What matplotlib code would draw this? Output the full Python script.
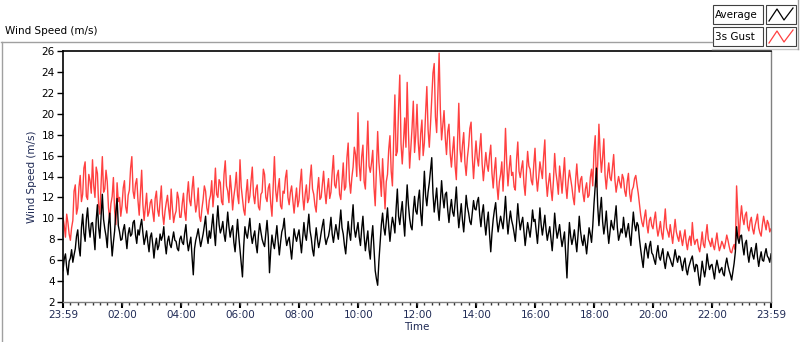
import numpy as np
import matplotlib
matplotlib.use('Agg')
import matplotlib.pyplot as plt
from matplotlib.lines import Line2D
from matplotlib.patches import Rectangle

# 2.5-minute samples from 23:59 to 23:59 next day, one row per hour
gust = [
    10.1, 9.3, 8.2, 10.4, 9.6, 8.5, 7.9, 9.1, 9.8, 12.6, 13.2, 10.4, 11.0, 13.0, 14.1, 11.6, 12.3, 14.8, 15.4, 12.1, 11.8, 14.2, 13.6, 12.4,
    15.6, 13.1, 12.0, 14.9, 14.3, 11.2, 10.4, 13.3, 15.9, 12.5, 12.8, 14.6, 13.5, 11.0, 9.9, 11.4, 12.1, 13.9, 10.7, 9.4, 13.4, 11.6, 12.0, 10.2,
    11.2, 12.9, 13.6, 11.1, 10.5, 12.2, 12.7, 14.8, 15.9, 12.6, 11.9, 13.3, 13.8, 11.7, 10.3, 12.4, 14.6, 11.3, 9.8, 11.1, 12.4, 10.2, 10.6, 11.5,
    11.8, 10.6, 9.7, 11.9, 12.6, 10.8, 10.2, 11.7, 13.1, 10.4, 9.4, 10.7, 11.5, 12.2, 10.9, 9.9, 12.8, 11.0, 9.6, 10.3, 10.7, 12.5, 11.9, 10.1,
    10.1, 11.4, 12.4, 10.6, 9.8, 12.2, 13.5, 11.7, 11.2, 12.8, 14.0, 11.9, 10.6, 11.3, 12.9, 10.2, 9.7, 10.9, 11.8, 13.1, 12.6, 11.0, 10.4, 11.7,
    12.2, 13.6, 11.1, 12.5, 14.8, 12.3, 12.0, 13.7, 13.4, 11.6, 11.3, 14.2, 15.5, 13.1, 12.6, 11.5, 14.1, 12.7, 10.8, 12.1, 13.0, 14.4, 12.2, 11.4,
    15.6, 13.0, 11.9, 10.8, 10.3, 12.4, 13.7, 11.5, 12.1, 13.6, 14.9, 12.2, 11.4, 12.8, 13.2, 11.1, 10.8, 12.3, 12.5, 14.7, 14.2, 12.0, 11.6, 12.9,
    13.3, 11.4, 10.2, 13.1, 15.9, 12.7, 11.6, 12.9, 13.8, 11.2, 10.9, 12.6, 12.4, 13.9, 14.6, 12.0, 11.3, 12.5, 13.1, 11.7, 10.5, 11.8, 12.9, 11.1,
    11.7, 13.4, 14.7, 12.1, 10.8, 12.3, 13.2, 11.5, 11.9, 13.8, 15.1, 12.8, 12.3, 11.2, 10.6, 12.7, 13.9, 11.8, 12.0, 13.3, 14.5, 12.6, 11.4, 12.8,
    13.8, 11.9, 12.5, 14.4, 16.0, 13.2, 12.9, 14.1, 14.6, 12.3, 11.8, 13.5, 15.3, 12.7, 13.0, 15.8, 17.2, 13.6, 12.4, 13.9, 14.9, 16.8, 16.1, 14.0,
    20.1, 15.2, 13.6, 15.9, 17.0, 13.5, 12.8, 16.1, 19.3, 15.0, 14.4, 15.3, 16.5, 13.0, 11.2, 14.6, 18.3, 15.4, 13.9, 12.1, 15.7, 13.3, 10.9, 13.5,
    14.2, 16.6, 17.9, 14.5, 13.1, 17.4, 21.8, 16.0, 16.4, 20.5, 23.7, 17.1, 15.2, 17.3, 19.6, 16.8, 23.0, 18.4, 14.8, 16.7, 18.7, 21.2, 16.3, 18.0,
    20.9, 17.3, 15.6, 18.1, 19.4, 16.0, 17.2, 20.1, 22.6, 18.5, 16.8, 19.0, 21.4, 23.9, 24.8, 19.7, 18.2, 22.1, 25.8, 20.4, 17.5, 18.9, 20.3, 17.7,
    16.1, 18.3, 19.0, 16.2, 14.9, 16.5, 17.8, 15.0, 13.7, 17.2, 21.0, 16.6, 15.4, 17.0, 18.2, 15.3, 14.1, 15.8, 16.9, 18.6, 19.2, 15.9, 13.8, 15.7,
    17.4, 15.8, 15.0, 16.7, 18.1, 15.2, 13.6, 14.9, 16.3, 15.1, 14.5, 16.0, 17.0, 14.3, 12.9, 14.6, 15.8, 13.2, 11.8, 13.5, 14.2, 15.4, 12.6, 14.8,
    18.6, 15.3, 13.1, 14.7, 16.0, 14.1, 14.4, 13.0, 12.7, 15.6, 17.3, 14.5, 13.9, 14.8, 15.5, 13.3, 12.2, 14.4, 16.4, 15.0, 14.7, 13.6, 13.2, 15.1,
    16.7, 14.0, 12.6, 13.9, 15.4, 14.6, 13.8, 15.9, 17.5, 13.7, 12.1, 13.4, 14.3, 12.8, 11.7, 13.6, 16.2, 14.4, 13.5, 12.3, 15.0, 13.8, 12.4, 14.1,
    15.8, 13.2, 11.9, 13.5, 14.6, 13.8, 13.0, 12.0, 11.3, 13.6, 15.2, 13.4, 12.5, 13.7, 14.0, 12.4, 11.6, 12.8, 13.4, 12.0, 12.2, 13.9, 14.7, 13.1,
    16.4, 17.9, 13.0, 15.2, 19.0, 16.3, 14.4, 15.8, 17.6, 14.1, 12.8, 14.2, 15.3, 13.9, 13.6, 14.8, 16.1, 13.7, 12.5, 13.3, 14.0, 13.4, 12.9, 14.2,
    13.8, 12.6, 12.1, 13.5, 14.3, 12.4, 11.6, 12.7, 13.0, 13.8, 14.1, 13.2, 12.4, 11.3, 10.3, 9.6, 9.2, 10.1, 10.8, 9.4, 8.6, 9.8, 10.1, 9.3,
    9.0, 9.9, 10.6, 9.2, 8.3, 8.9, 9.7, 8.6, 8.0, 9.5, 10.9, 9.1, 8.7, 8.2, 9.4, 8.5, 7.6, 8.8, 9.9, 8.7, 8.2, 7.8, 8.8, 8.1,
    7.4, 8.2, 8.9, 7.7, 7.0, 7.9, 8.3, 7.4, 9.6, 8.1, 7.5, 7.9, 8.0, 7.2, 6.8, 7.6, 8.7, 7.5, 7.2, 8.4, 9.4, 8.0, 7.7, 7.3,
    8.1, 7.4, 7.0, 7.8, 8.6, 7.6, 6.9, 7.3, 7.8, 7.5, 7.1, 7.7, 8.4, 7.9, 7.3, 6.8, 6.7, 7.2, 7.5, 7.0, 13.1, 10.6, 8.0, 9.9,
    11.2, 10.0, 9.4, 10.3, 10.6, 9.2, 8.8, 9.7, 10.1, 9.0, 8.5, 9.3, 9.8, 10.4, 9.1, 8.6, 8.3, 9.4, 10.2, 9.5, 8.9, 9.8, 9.5, 8.7, 9.0,
]

average = [
    5.0, 6.1, 6.6, 5.3, 4.6, 5.9, 6.2, 7.0, 5.8, 6.5, 7.1, 8.3, 8.9, 7.2, 6.4, 9.1, 10.4, 8.6, 7.8, 9.9, 11.0, 9.2, 8.2, 9.5,
    9.6, 8.4, 7.0, 9.8, 11.3, 9.1, 8.1, 10.2, 12.3, 9.9, 9.0, 8.3, 7.2, 9.4, 10.5, 8.2, 6.4, 7.7, 8.8, 10.6, 11.9, 9.3, 8.7, 7.9,
    8.0, 8.9, 9.4, 8.2, 7.1, 8.5, 9.1, 8.3, 8.5, 9.6, 9.8, 8.4, 7.6, 8.9, 8.4, 9.3, 9.9, 8.6, 7.5, 8.1, 8.8, 7.7, 6.8, 8.2,
    8.6, 7.5, 6.2, 7.4, 8.1, 7.0, 7.4, 8.5, 7.9, 8.3, 9.2, 7.6, 6.6, 7.8, 8.3, 7.5, 7.2, 8.0, 8.7, 7.9, 7.8, 7.1, 6.9, 8.0,
    8.3, 7.7, 7.5, 8.6, 9.4, 7.8, 6.9, 7.6, 8.2, 6.3, 4.6, 7.1, 7.9, 8.4, 9.0, 8.1, 7.3, 7.9, 8.5, 9.3, 10.2, 8.4, 7.6, 8.8,
    8.1, 9.2, 10.4, 8.7, 7.4, 9.6, 11.2, 9.4, 8.6, 9.0, 9.7, 8.5, 7.8, 9.1, 10.6, 9.2, 8.2, 8.9, 9.3, 7.7, 6.8, 8.4, 9.9, 8.3,
    7.0, 5.6, 4.4, 7.3, 9.2, 8.5, 8.1, 9.0, 10.0, 8.4, 7.6, 8.3, 8.8, 7.5, 6.7, 8.4, 9.5, 8.7, 8.0, 7.6, 7.3, 8.5, 9.8, 8.2,
    4.8, 6.9, 8.4, 7.6, 7.1, 8.2, 9.3, 7.8, 6.5, 7.7, 8.7, 9.1, 10.0, 8.3, 7.4, 7.9, 8.2, 7.1, 6.1, 7.5, 9.0, 8.3, 7.8, 8.4,
    8.9, 7.8, 6.7, 8.2, 9.6, 8.4, 7.9, 9.2, 10.4, 8.8, 8.1, 7.0, 6.4, 7.9, 9.1, 8.0, 7.2, 7.8, 8.6, 9.3, 9.9, 8.2, 7.5, 8.0,
    8.3, 9.0, 10.1, 8.5, 7.7, 8.6, 9.4, 8.7, 8.0, 9.5, 10.8, 9.1, 8.5, 7.4, 6.6, 8.2, 9.7, 8.6, 7.9, 9.8, 11.3, 9.0, 8.2, 8.9,
    9.6, 8.2, 7.4, 9.0, 10.2, 8.3, 6.9, 7.9, 8.8, 7.0, 6.1, 8.1, 9.3, 7.2, 5.0, 4.2, 3.6, 5.9, 7.7, 9.4, 10.5, 9.1, 8.4, 9.7,
    11.0, 9.2, 7.8, 9.1, 10.1, 9.5, 8.6, 10.9, 12.8, 10.2, 9.4, 10.6, 11.6, 9.8, 8.3, 11.0, 13.2, 11.3, 10.0, 9.2, 8.9, 10.8, 12.1, 10.7,
    10.4, 11.8, 12.7, 10.5, 9.3, 11.9, 14.5, 12.2, 11.2, 12.5, 13.4, 14.6, 15.8, 12.4, 10.6, 11.7, 12.9, 11.0, 9.8, 11.6, 13.6, 12.0, 11.0, 12.3,
    12.5, 10.8, 9.6, 10.9, 11.8, 10.6, 10.2, 11.5, 13.0, 10.7, 9.1, 10.2, 11.4, 9.8, 8.7, 10.3, 12.2, 11.1, 10.5, 9.7, 9.4, 10.6, 11.7, 10.9,
    10.8, 11.6, 12.0, 10.3, 9.2, 10.5, 11.3, 9.6, 8.4, 9.7, 10.6, 8.5, 6.8, 8.6, 9.9, 10.8, 11.5, 9.8, 8.7, 9.5, 10.2, 9.6, 9.0, 10.4,
    12.1, 10.0, 8.5, 9.7, 10.7, 9.8, 9.3, 8.6, 7.8, 9.5, 11.4, 9.9, 8.9, 9.6, 10.1, 8.8, 7.4, 8.5, 9.6, 8.9, 8.2, 9.3, 10.8, 9.7,
    9.9, 8.8, 7.6, 9.2, 11.0, 9.4, 8.4, 9.3, 10.3, 8.9, 7.9, 8.6, 9.2, 8.0, 6.9, 8.5, 10.5, 9.1, 8.1, 8.7, 9.4, 8.2, 7.3, 8.0,
    8.7, 6.5, 4.3, 7.4, 9.6, 8.3, 7.5, 8.1, 8.9, 7.8, 6.8, 8.4, 10.2, 8.8, 7.9, 7.4, 8.4, 7.6, 6.6, 7.9, 9.1, 8.5, 7.7, 9.3,
    11.4, 13.1, 14.8, 11.2, 9.3, 10.8, 12.0, 9.7, 8.5, 9.4, 10.7, 8.9, 7.6, 8.7, 9.8, 9.2, 8.9, 10.0, 11.2, 9.1, 7.9, 8.4, 9.0, 8.6,
    10.1, 9.0, 8.2, 8.9, 9.5, 8.3, 7.4, 9.1, 10.6, 9.4, 8.8, 9.6, 9.3, 8.0, 7.0, 6.1, 5.3, 6.8, 7.6, 6.9, 6.2, 7.3, 7.8, 6.7,
    6.5, 6.0, 5.6, 6.7, 7.4, 6.3, 6.0, 6.6, 7.1, 5.9, 5.2, 6.1, 6.8, 6.4, 6.1, 5.7, 5.4, 6.2, 7.0, 6.3, 5.8, 6.4, 6.3, 5.6,
    5.0, 5.8, 6.2, 5.1, 4.6, 5.3, 5.7, 6.1, 6.4, 5.5, 4.9, 5.6, 5.5, 4.5, 3.6, 4.8, 5.9, 5.1, 4.4, 5.2, 6.6, 5.7, 5.1, 5.5,
    5.6, 4.9, 4.2, 5.3, 6.0, 5.4, 4.8, 5.1, 5.3, 4.7, 4.5, 5.6, 6.2, 5.5, 5.0, 4.6, 4.1, 4.9, 5.7, 6.8, 9.2, 8.1, 7.6, 8.3,
    8.4, 7.3, 6.5, 7.6, 7.9, 6.6, 5.8, 6.7, 7.2, 6.5, 6.1, 6.9, 7.6, 6.3, 5.4, 6.2, 6.8, 6.0, 5.9, 6.6, 7.1, 6.4, 6.2, 5.8, 6.6,
]

tick_labels = ['23:59', '02:00', '04:00', '06:00', '08:00', '10:00', '12:00',
               '14:00', '16:00', '18:00', '20:00', '22:00', '23:59']
tick_pos = [-1, 120, 240, 360, 480, 600, 720, 840, 960, 1080, 1200, 1320, 1439]

# minutes after midnight, starting at 23:59 of the previous day
t = -1 + 2.5 * np.arange(len(gust))

navy = '#1f2a55'
plt.rcParams['font.family'] = ['DejaVu Sans']

fig = plt.figure(figsize=(8, 3.42), dpi=100)
ax = fig.add_axes([63/800, 1 - 302/342, (771 - 63)/800, (302 - 51)/342])

ax.plot(t, gust, color='#ff4040', lw=1.0)
ax.plot(t, average, color='black', lw=1.0)

ax.set_xlim(-1, 1439)
ax.set_ylim(2, 26)
ax.set_yticks(range(2, 27, 2))
ax.set_xticks(tick_pos)
ax.set_xticklabels(tick_labels, color=navy)
ax.set_xticks(np.arange(14, 1439, 15), minor=True)
ax.tick_params(axis='both', which='major', labelsize=7.5, length=4, width=1, pad=2)
ax.tick_params(axis='x', which='major', width=1.5)
ax.tick_params(axis='x', which='minor', length=2.5, width=1, color='#333333')
ax.set_xlabel('Time', fontsize=7.5, color=navy, labelpad=1)
ax.set_ylabel('Wind Speed (m/s)', fontsize=7.5, color=navy, labelpad=3)

for side in ['top', 'left']:
    ax.spines[side].set_color('black')
    ax.spines[side].set_linewidth(1.2)
for side in ['right', 'bottom']:
    ax.spines[side].set_color('#808080')
    ax.spines[side].set_linewidth(1.0)

# panel frame and title
fig.add_artist(Line2D([0.001, 712/800], [1 - 42/342] * 2, color='#a0a0a0', lw=1))
fig.add_artist(Line2D([0.002, 0.002], [0, 1 - 42/342], color='#a0a0a0', lw=1))
fig.add_artist(Line2D([712/800, 798/800], [1 - 49/342] * 2, color='#c8c8c8', lw=1))
fig.add_artist(Line2D([798/800, 798/800], [1 - 49/342, 1], color='#a0a0a0', lw=1))
fig.text(5/800, 1 - 31/342, 'Wind Speed (m/s)', fontsize=7.5, va='center', ha='left')

# legend
for i, (name, col) in enumerate([('Average', 'black'), ('3s Gust', '#ff4040')]):
    y0 = 1 - (24 + 22 * i) / 342
    h = 19 / 342
    fig.add_artist(Rectangle((713/800, y0), 50/800, h, fill=False, ec='#404040', lw=0.8))
    fig.add_artist(Rectangle((766/800, y0), 30/800, h, fill=False, ec='#404040', lw=0.8))
    fig.text(715/800, y0 + h / 2, name, fontsize=7.5, va='center', ha='left')
    xs = np.array([769, 777, 784, 793]) / 800
    ys = y0 + np.array([3, 15, 4, 16]) / 342
    fig.add_artist(Line2D(xs, ys, color=col, lw=0.9))

fig.savefig('out.png', dpi=100)
